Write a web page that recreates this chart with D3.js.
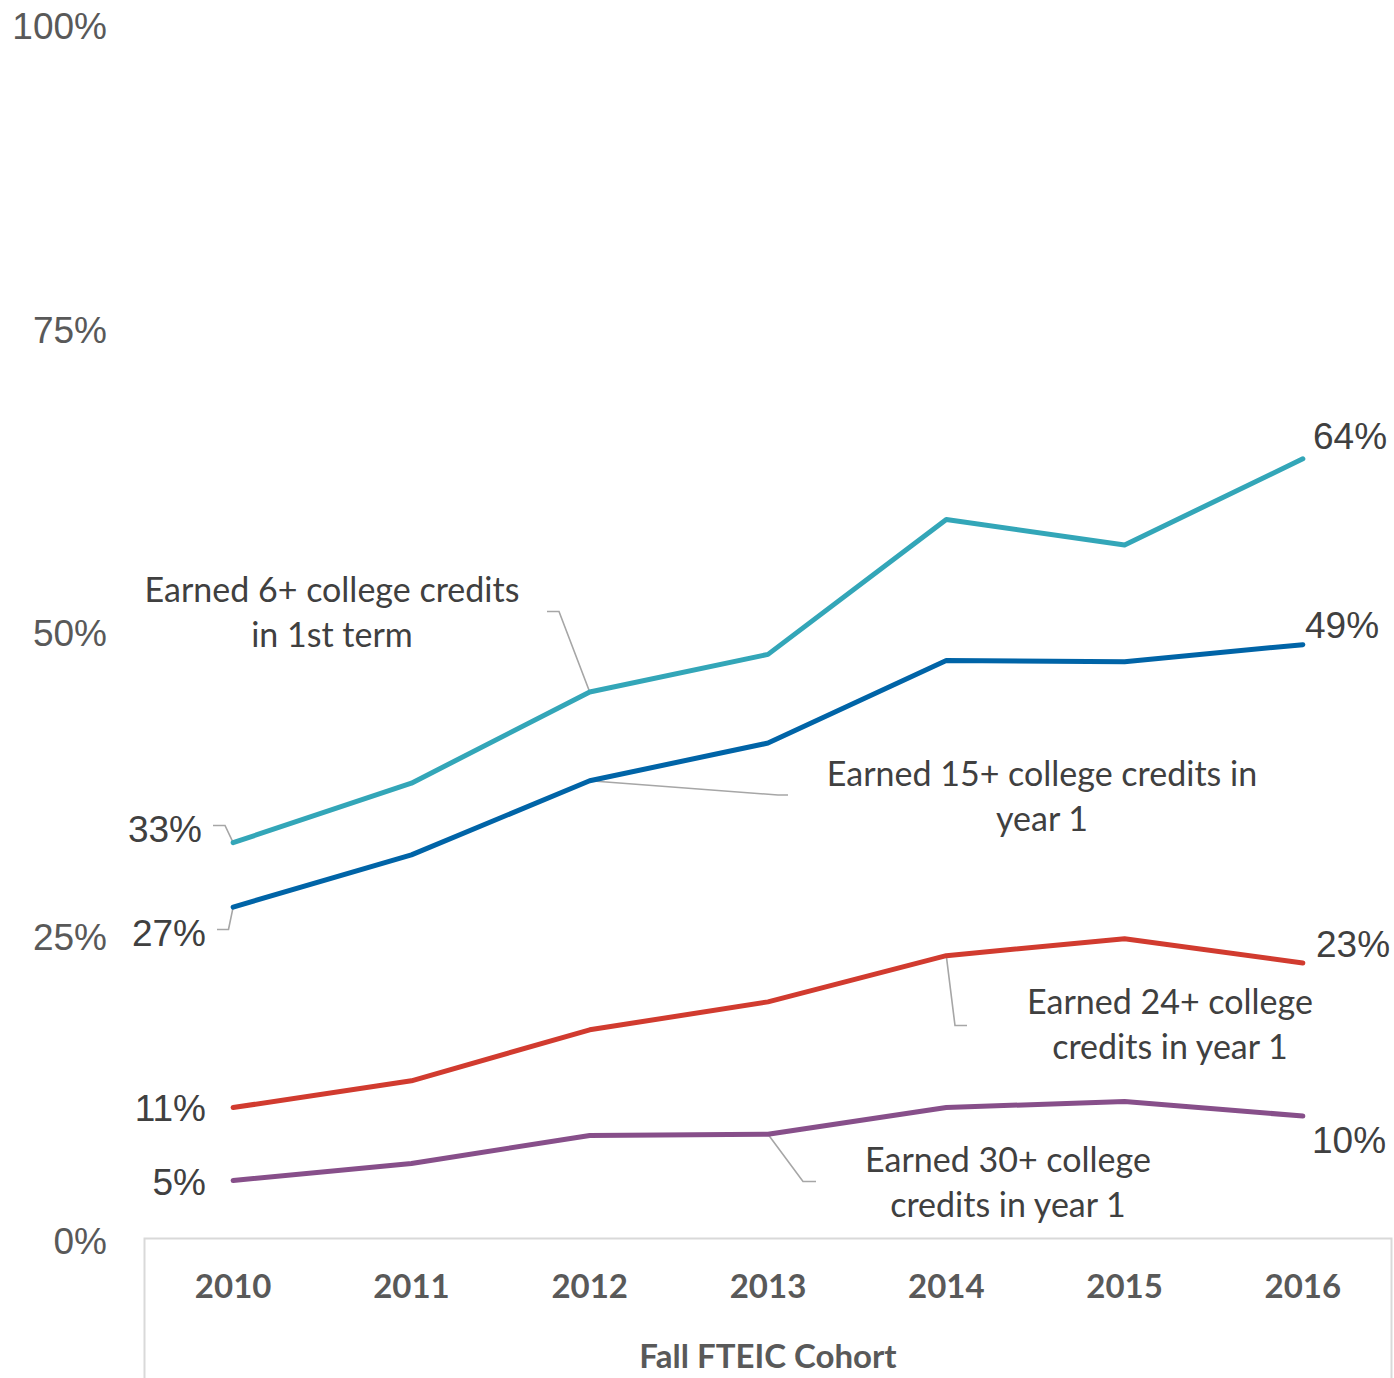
<!DOCTYPE html>
<html>
<head>
<meta charset="utf-8">
<script src="https://cdn.jsdelivr.net/npm/d3@7"></script>
<style>
  html, body { margin: 0; padding: 0; background: #fff; }
  svg { display: block; }
</style>
</head>
<body>
<div id="chart"></div>
<script>
// Cohort years on the category axis
const years = ["2010", "2011", "2012", "2013", "2014", "2015", "2016"];

// Share of each cohort reaching the credit milestone (%)
const credits6Term1 = [32.7, 37.6, 45.1, 48.2, 59.3, 57.2, 64.3];
const credits15Year1 = [27.4, 31.7, 37.8, 40.9, 47.7, 47.6, 49.0];
const credits24Year1 = [10.9, 13.1, 17.3, 19.6, 23.4, 24.8, 22.8];
const credits30Year1 = [4.9, 6.3, 8.6, 8.7, 10.9, 11.4, 10.2];

const yTicks = [0, 25, 50, 75, 100];

const seriesNames = [
  ["Earned 6+ college credits", "in 1st term"],
  ["Earned 15+ college credits in", "year 1"],
  ["Earned 24+ college", "credits in year 1"],
  ["Earned 30+ college", "credits in year 1"]
];

const W = 1394, H = 1378;
const svg = d3.select("#chart").append("svg").attr("width", W).attr("height", H);

const x = d3.scaleBand().domain(years).range([144, 1392]);
const y = d3.scaleLinear().domain([0, 100]).range([1240, 25]);
const cx = d => x(d) + x.bandwidth() / 2;

const series = [
  { values: credits6Term1, color: "#33a6b8", name: seriesNames[0] },
  { values: credits15Year1, color: "#0064a7", name: seriesNames[1] },
  { values: credits24Year1, color: "#d13b2f", name: seriesNames[2] },
  { values: credits30Year1, color: "#874f8a", name: seriesNames[3] }
];

// Y tick labels (no gridlines, no axis line)
const yAxis = d3.axisLeft(y).tickValues(yTicks).tickFormat(d => d + "%").tickSize(0).tickPadding(0);
const gy = svg.append("g").attr("transform", "translate(107,0)").call(yAxis);
gy.select(".domain").remove();
gy.selectAll("text")
  .attr("font-family", "'Liberation Sans', Arial, sans-serif")
  .attr("font-size", 37)
  .attr("fill", "#595959")
  .attr("dy", "0.36em");

// Category axis box
const axisTop = 1238.5;
svg.append("path")
  .attr("d", `M144.5,${H}V${axisTop}H1391.5V${H}`)
  .attr("fill", "none").attr("stroke", "#d9d9d9").attr("stroke-width", 2);

const xAxis = d3.axisBottom(x).tickSize(0).tickPadding(0);
const gx = svg.append("g").attr("transform", "translate(0,1298)").call(xAxis);
gx.select(".domain").remove();
gx.selectAll("text")
  .attr("font-family", "Lato, 'Open Sans', sans-serif")
  .attr("font-weight", 700)
  .attr("font-size", 33)
  .attr("fill", "#595959")
  .attr("dy", 0);

svg.append("text")
  .attr("x", (x.range()[0] + x.range()[1]) / 2 + 0)
  .attr("y", 1368)
  .attr("text-anchor", "middle")
  .attr("font-family", "Lato, 'Open Sans', sans-serif")
  .attr("font-weight", 700)
  .attr("font-size", 33)
  .attr("fill", "#595959")
  .text("Fall FTEIC Cohort");

// Leader lines from annotations to the series
const leader = (pts) => svg.append("path")
  .attr("d", d3.line()(pts))
  .attr("fill", "none").attr("stroke", "#a6a6a6").attr("stroke-width", 1.6);

const pt = (s, i) => [cx(years[i]), y(series[s].values[i])];

leader([pt(0, 0), [225, 825.5], [213, 825.5]]);
leader([pt(1, 0), [228.5, 929.5], [217, 929.5]]);
leader([pt(0, 2), [559, 611.5], [547, 611.5]]);
leader([pt(1, 2), [778, 795], [788, 795]]);
leader([pt(2, 4), [955, 1025.5], [967, 1025.5]]);
leader([pt(3, 3), [803, 1181.5], [816, 1181.5]]);

// Lines
const line = d3.line().x((d, i) => cx(years[i])).y(d => y(d));
series.forEach(s => {
  svg.append("path")
    .datum(s.values)
    .attr("d", line)
    .attr("fill", "none")
    .attr("stroke", s.color)
    .attr("stroke-width", 5)
    .attr("stroke-linejoin", "round")
    .attr("stroke-linecap", "round");
});

// Data labels at the first and last cohort
const labelFont = "'Liberation Sans', Arial, sans-serif";
const fmt = v => Math.round(v) + "%";
const firstLabels = [
  { s: 0, x: 202, y: 842 },
  { s: 1, x: 206, y: 946 },
  { s: 2, x: 206, y: 1121 },
  { s: 3, x: 206, y: 1195 }
];
const lastLabels = [
  { s: 0, x: 1313, y: 449 },
  { s: 1, x: 1305, y: 638 },
  { s: 2, x: 1316, y: 957 },
  { s: 3, x: 1312, y: 1153 }
];
firstLabels.forEach(l => {
  svg.append("text").attr("x", l.x).attr("y", l.y)
    .attr("text-anchor", "end")
    .attr("font-family", labelFont).attr("font-size", 37).attr("fill", "#404040")
    .text(fmt(series[l.s].values[0]));
});
lastLabels.forEach(l => {
  svg.append("text").attr("x", l.x).attr("y", l.y)
    .attr("text-anchor", "start")
    .attr("font-family", labelFont).attr("font-size", 37).attr("fill", "#404040")
    .text(fmt(series[l.s].values[years.length - 1]));
});

// Series annotations
const notes = [
  { s: 0, x: 332, y: 602 },
  { s: 1, x: 1042, y: 786 },
  { s: 2, x: 1170, y: 1014 },
  { s: 3, x: 1008, y: 1172 }
];
notes.forEach(n => {
  const t = svg.append("text")
    .attr("text-anchor", "middle")
    .attr("font-family", "Lato, 'Open Sans', sans-serif")
    .attr("font-size", 34)
    .attr("fill", "#404040");
  series[n.s].name.forEach((ln, i) => {
    t.append("tspan").attr("x", n.x).attr("y", n.y + i * 45).text(ln);
  });
});
</script>
</body>
</html>
